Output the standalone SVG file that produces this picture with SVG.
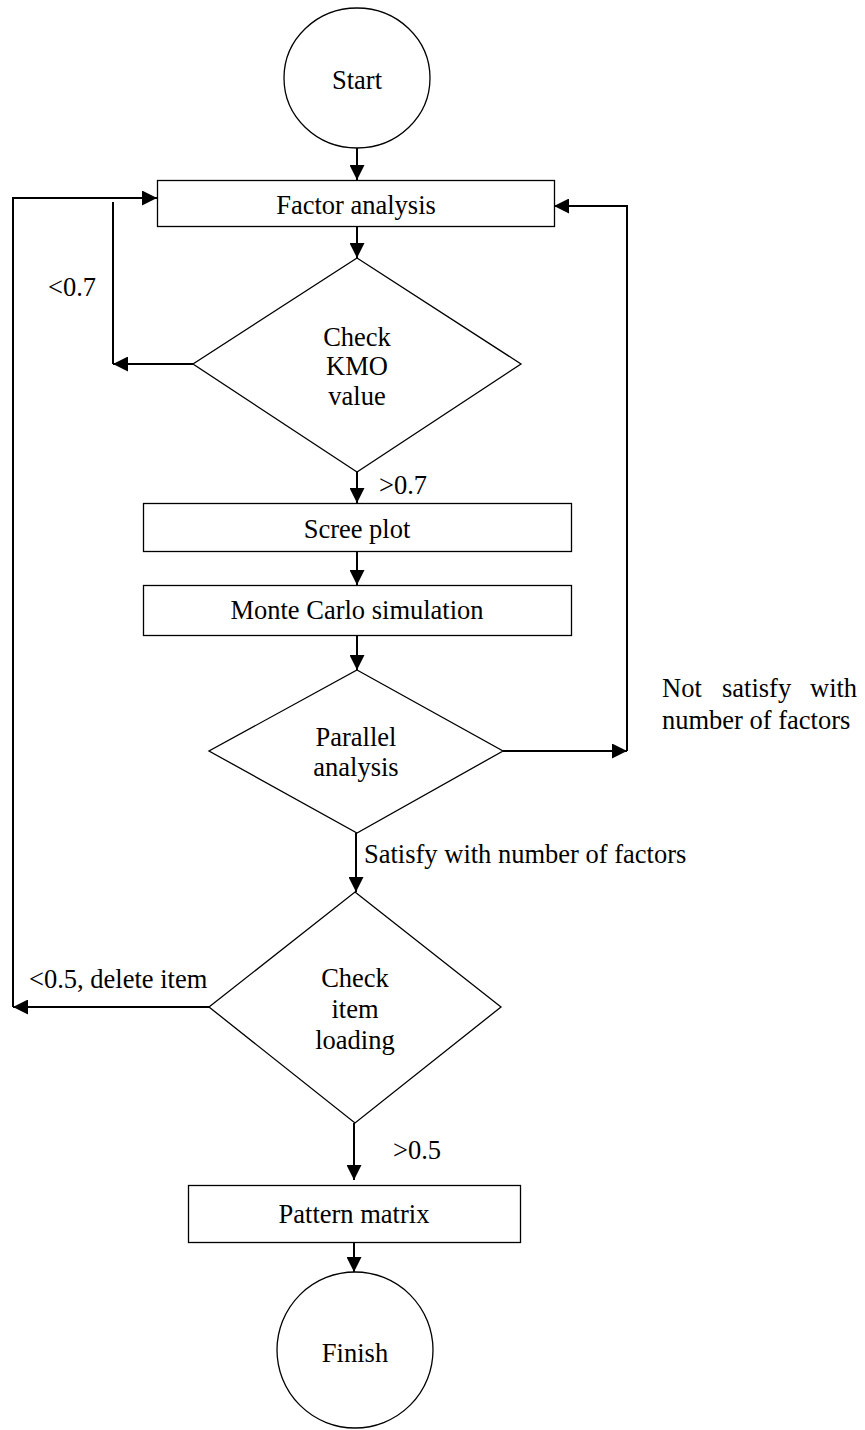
<svg xmlns="http://www.w3.org/2000/svg" width="865" height="1430" viewBox="0 0 865 1430">
  <style>
    .shape { fill: #ffffff; stroke: #000000; stroke-width: 1.3; }
    .conn { fill: none; stroke: #000000; stroke-width: 2; }
    .t { font-family: "Liberation Serif", "Times New Roman", serif; font-size: 26.5px; fill: #000000; }
    .c { text-anchor: middle; }
  </style>
  <defs>
    <marker id="arrow" markerUnits="userSpaceOnUse" markerWidth="15" markerHeight="15" refX="15" refY="7.5" orient="auto">
      <path d="M0,0 L15,7.5 L0,15 Z" fill="#000000"/>
    </marker>
  </defs>

  <rect width="865" height="1430" fill="#ffffff"/>

  <!-- connectors -->
  <g id="connectors">
    <path class="conn" d="M357,148 V180" marker-end="url(#arrow)"/>
    <path class="conn" d="M357,227 V258" marker-end="url(#arrow)"/>
    <!-- KMO < 0.7 loop back -->
    <path class="conn" d="M193,364 H113" marker-end="url(#arrow)"/>
    <path class="conn" d="M113,202 V364"/>
    <!-- item loading < 0.5 loop back -->
    <path class="conn" d="M209,1007 H13" marker-end="url(#arrow)"/>
    <path class="conn" d="M13,1007 V198 H157" marker-end="url(#arrow)"/>
    <!-- parallel analysis not satisfied loop back -->
    <path class="conn" d="M503,751 H627" marker-end="url(#arrow)"/>
    <path class="conn" d="M627,751 V206 H554" marker-end="url(#arrow)"/>
    <!-- main flow -->
    <path class="conn" d="M357,472 V503" marker-end="url(#arrow)"/>
    <path class="conn" d="M357,551 V585" marker-end="url(#arrow)"/>
    <path class="conn" d="M357,635 V670" marker-end="url(#arrow)"/>
    <path class="conn" d="M356,833 V892" marker-end="url(#arrow)"/>
    <path class="conn" d="M354,1123 V1180" marker-end="url(#arrow)"/>
    <path class="conn" d="M354,1242 V1272" marker-end="url(#arrow)"/>
  </g>

  <!-- connector labels -->
  <g id="labels" class="t">
    <text x="48" y="296">&lt;0.7</text>
    <text x="379" y="494">&gt;0.7</text>
    <text x="662" y="697">Not</text>
    <text x="722" y="697">satisfy</text>
    <text x="810" y="697">with</text>
    <text x="662" y="729">number of factors</text>
    <text x="364" y="863">Satisfy with number of factors</text>
    <text x="29" y="988">&lt;0.5, delete item</text>
    <text x="393" y="1159">&gt;0.5</text>
  </g>

  <g id="start">
    <ellipse class="shape" cx="357" cy="78" rx="73" ry="70"/>
    <text class="t c" x="357" y="89">Start</text>
  </g>

  <g id="factor-analysis">
    <rect class="shape" x="157.5" y="180.5" width="397" height="46"/>
    <text class="t c" x="356" y="214">Factor analysis</text>
  </g>

  <g id="check-kmo">
    <polygon class="shape" points="357,258 521,364 357,472 193,364"/>
    <text class="t c" x="357" y="346">Check</text>
    <text class="t c" x="357" y="375">KMO</text>
    <text class="t c" x="357" y="405">value</text>
  </g>

  <g id="scree-plot">
    <rect class="shape" x="143.5" y="503.5" width="428" height="48"/>
    <text class="t c" x="357" y="538">Scree plot</text>
  </g>

  <g id="monte-carlo">
    <rect class="shape" x="143.5" y="585.5" width="428" height="50"/>
    <text class="t c" x="357" y="619">Monte Carlo simulation</text>
  </g>

  <g id="parallel-analysis">
    <polygon class="shape" points="357,670 503,751 357,833 209,751"/>
    <text class="t c" x="356" y="746">Parallel</text>
    <text class="t c" x="356" y="776">analysis</text>
  </g>

  <g id="check-item-loading">
    <polygon class="shape" points="355,892 501,1007 355,1123 209,1007"/>
    <text class="t c" x="355" y="987">Check</text>
    <text class="t c" x="355" y="1018">item</text>
    <text class="t c" x="355" y="1049">loading</text>
  </g>

  <g id="pattern-matrix">
    <rect class="shape" x="188.5" y="1185.5" width="332" height="57"/>
    <text class="t c" x="354" y="1223">Pattern matrix</text>
  </g>

  <g id="finish">
    <circle class="shape" cx="355" cy="1350" r="78"/>
    <text class="t c" x="355" y="1362">Finish</text>
  </g>
</svg>
